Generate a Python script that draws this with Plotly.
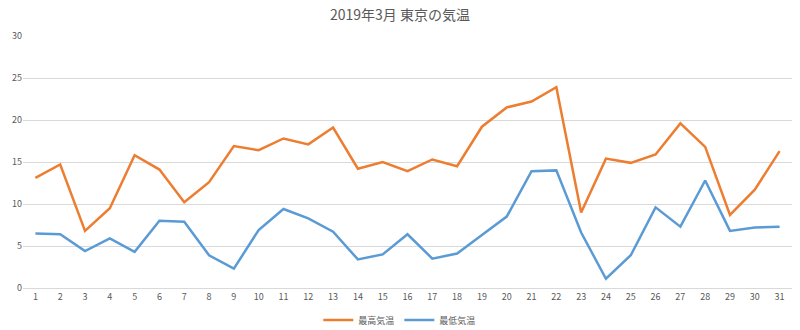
import plotly.graph_objects as go

days = list(range(1, 32))
max_temp = [13.1, 14.7, 6.8, 9.5, 15.8, 14.1, 10.2, 12.6, 16.9, 16.4,
            17.8, 17.1, 19.1, 14.2, 15.0, 13.9, 15.3, 14.5, 19.2, 21.5,
            22.2, 23.9, 9.0, 15.4, 14.9, 15.9, 19.6, 16.8, 8.7, 11.7, 16.3]
min_temp = [6.5, 6.4, 4.4, 5.9, 4.3, 8.0, 7.9, 3.9, 2.3, 6.9,
            9.4, 8.3, 6.7, 3.4, 4.0, 6.4, 3.5, 4.1, 6.3, 8.5,
            13.9, 14.0, 6.6, 1.1, 3.9, 9.6, 7.3, 12.8, 6.8, 7.2, 7.3]
series_names = ["最高気温", "最低気温"]
title_text = "2019年3月 東京の気温"

font_family = "Noto Sans CJK JP, Noto Sans, sans-serif"
grey = "#595959"

fig = go.Figure()
fig.add_trace(go.Scatter(x=days, y=max_temp, mode="lines", name=series_names[0],
                         line=dict(color="#ED7D31", width=2.5)))
fig.add_trace(go.Scatter(x=days, y=min_temp, mode="lines", name=series_names[1],
                         line=dict(color="#5B9BD5", width=2.5)))

fig.update_layout(
    width=800, height=330,
    margin=dict(l=23, r=8, t=36, b=42, autoexpand=False),
    paper_bgcolor="white", plot_bgcolor="white",
    font=dict(family=font_family, color=grey, size=9),
    title=dict(text=title_text, x=0.5, xanchor="center", y=0.955, yanchor="middle",
               font=dict(size=14, color=grey, family=font_family)),
    legend=dict(orientation="h", x=0.49, xanchor="center", y=0.03, yanchor="middle",
                yref="container", font=dict(size=9, color=grey), itemwidth=30,
                tracegroupgap=0),
    showlegend=True,
)
fig.update_xaxes(range=[0.5, 31.5], tickmode="array", tickvals=days,
                 ticktext=[str(d) for d in days], showgrid=False, zeroline=False,
                 showline=True, linecolor="#d9d9d9", linewidth=1, ticks="",
                 tickfont=dict(size=9, color=grey), fixedrange=True)
fig.update_yaxes(range=[0, 30], dtick=5, showgrid=True, gridcolor="#d9d9d9",
                 gridwidth=1, zeroline=False, showline=False, ticks="",
                 tickfont=dict(size=9, color=grey), fixedrange=True)

fig.write_html("out.html")
